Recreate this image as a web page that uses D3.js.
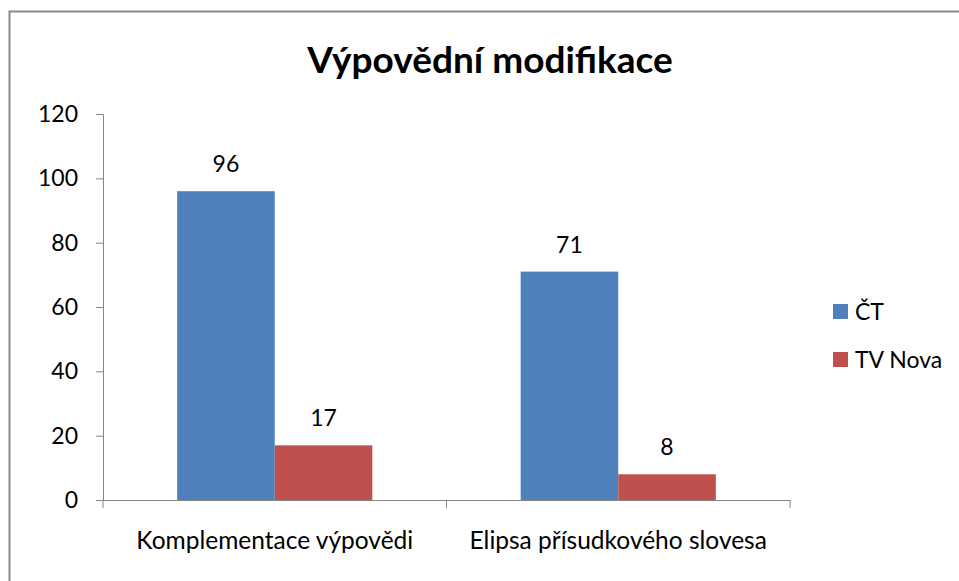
<!DOCTYPE html>
<html>
<head>
<meta charset="utf-8">
<script src="https://cdn.jsdelivr.net/npm/d3@7"></script>
<style>
  body { margin: 0; background: #fff; }
  svg { display: block; font-family: Lato, "Open Sans", sans-serif; }
</style>
</head>
<body>
<div id="chart"></div>
<script>
var categories = ['Komplementace výpovědi', 'Elipsa přísudkového slovesa']
var series = ['ČT', 'TV Nova']
var ctValues = [96, 71]
var novaValues = [17, 8]
var yTicks = [0, 20, 40, 60, 80, 100, 120]
var colors = ['#4F81BD', '#C0504D']

var w = 959
var h = 581
var fs = 23

var margins = { left: 103, right: 169, top: 114, bottom: 81 }

var svg = d3.select('#chart').append('svg')
  .attr('width', w)
  .attr('height', h)

// outer frame (runs past the right and bottom edges)
svg.append('rect')
  .attr('x', 9.5).attr('y', 11.5)
  .attr('width', 1000).attr('height', 1000)
  .attr('fill', 'none')
  .attr('stroke', '#898989')
  .attr('stroke-width', 2)

svg.append('text').text('Výpovědní modifikace')
  .attr('x', 490).attr('y', 73)
  .attr('text-anchor', 'middle')
  .attr('font-weight', 'bold')
  .attr('font-size', 37)
  .attr('fill', '#000')

var x0 = d3.scaleBand().domain(categories).range([margins.left, w - margins.right])
var x1 = d3.scaleBand().domain(series).range([0, x0.bandwidth()]).paddingInner(0).paddingOuter(0.76)
var y = d3.scaleLinear().domain([0, 120]).range([h - margins.bottom, margins.top])

// y axis
var yAxis = d3.axisLeft(y).tickValues(yTicks).tickSize(7).tickPadding(18)
var gy = svg.append('g').attr('transform', 'translate(' + margins.left + ',0)').call(yAxis)
gy.select('.domain').attr('stroke', '#868686')
gy.selectAll('.tick line').attr('stroke', '#868686')
gy.selectAll('.tick text').attr('font-size', fs).attr('fill', '#000').attr('font-family', 'Lato, sans-serif')

// bars
var rows = categories.map(function (c, i) {
  return { cat: c, vals: [ctValues[i], novaValues[i]] }
})

var groups = svg.selectAll('g.grp').data(rows).enter().append('g')
  .attr('class', 'grp')
  .attr('transform', function (d) { return 'translate(' + x0(d.cat) + ',0)' })

groups.selectAll('rect').data(function (d) {
  return d.vals.map(function (v, j) { return { s: series[j], v: v, j: j } })
}).enter().append('rect')
  .attr('x', function (d) { return x1(d.s) })
  .attr('y', function (d) { return y(d.v) })
  .attr('width', x1.bandwidth())
  .attr('height', function (d) { return y(0) - y(d.v) })
  .attr('fill', function (d) { return colors[d.j] })

groups.selectAll('text.val').data(function (d) {
  return d.vals.map(function (v, j) { return { s: series[j], v: v } })
}).enter().append('text')
  .attr('class', 'val')
  .text(function (d) { return d.v })
  .attr('x', function (d) { return x1(d.s) + x1.bandwidth() / 2 })
  .attr('y', function (d) { return y(d.v) - 19 })
  .attr('text-anchor', 'middle')
  .attr('font-size', fs)
  .attr('fill', '#000')

// x axis
var xAxis = d3.axisBottom(x0).tickSize(0).tickPadding(32)
var gx = svg.append('g').attr('transform', 'translate(0,' + y(0) + ')').call(xAxis)
gx.select('.domain').attr('stroke', '#868686')
gx.selectAll('.tick text').attr('font-size', 24.5).attr('fill', '#000').attr('font-family', 'Lato, sans-serif')
// category separators
var seps = [x0.range()[0]].concat(categories.map(function (c) { return x0(c) + x0.bandwidth() }))
gx.selectAll('line.sep').data(seps).enter().append('line')
  .attr('class', 'sep')
  .attr('x1', function (d) { return d }).attr('x2', function (d) { return d })
  .attr('y1', 0).attr('y2', 8)
  .attr('stroke', '#868686')

// legend
var legend = svg.selectAll('g.leg').data(series).enter().append('g')
  .attr('class', 'leg')
  .attr('transform', function (d, i) { return 'translate(833,' + (304 + i * 48) + ')' })
legend.append('rect').attr('width', 15).attr('height', 15)
  .attr('fill', function (d, i) { return colors[i] })
legend.append('text').text(function (d) { return d })
  .attr('x', 22).attr('y', 8).attr('dy', '0.35em')
  .attr('font-size', fs).attr('fill', '#000')
</script>
</body>
</html>
